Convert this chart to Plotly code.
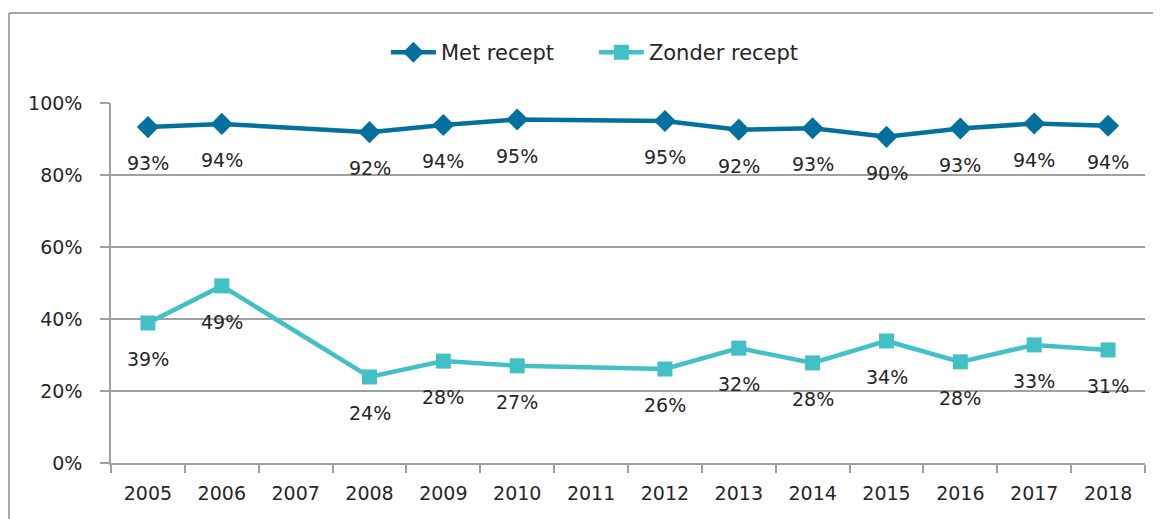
import plotly.graph_objects as go

years = [str(y) for y in range(2005, 2019)]
met_recept = [93.3, 94.2, None, 91.9, 93.9, 95.4, None, 95.0, 92.6, 93.0, 90.6, 92.9, 94.3, 93.7]
met_labels = ["93%", "94%", None, "92%", "94%", "95%", None, "95%", "92%", "93%", "90%", "93%", "94%", "94%"]
zonder_recept = [38.9, 49.2, None, 23.9, 28.3, 27.0, None, 26.1, 31.9, 27.8, 33.9, 28.1, 32.8, 31.4]
zonder_labels = ["39%", "49%", None, "24%", "28%", "27%", None, "26%", "32%", "28%", "34%", "28%", "33%", "31%"]
y_ticks = [0, 20, 40, 60, 80, 100]
y_ticktext = ["0%", "20%", "40%", "60%", "80%", "100%"]

C_MET = "#03709D"
C_ZON = "#43C0C6"
FONT = "DejaVu Sans"
TXT = "#262626"

fig = go.Figure()
fig.add_trace(go.Scatter(x=years, y=met_recept, name="Met recept", mode="lines+markers",
                         connectgaps=True, line=dict(color=C_MET, width=4.5),
                         marker=dict(symbol="diamond", size=17, color=C_MET)))
fig.add_trace(go.Scatter(x=years, y=zonder_recept, name="Zonder recept", mode="lines+markers",
                         connectgaps=True, line=dict(color=C_ZON, width=4.5),
                         marker=dict(symbol="square", size=15, color=C_ZON)))

for vals, labs in ((met_recept, met_labels), (zonder_recept, zonder_labels)):
    for i, (v, t) in enumerate(zip(vals, labs)):
        if v is None:
            continue
        fig.add_annotation(x=i, y=v, xref="x", yref="y", text=t, showarrow=False,
                           yshift=-36, font=dict(family=FONT, size=19, color=TXT))

# outer frame (left and top edges)
fig.add_shape(type="line", xref="paper", yref="paper", x0=-0.0986, x1=1.05, y0=1.25, y1=1.25,
              line=dict(color="#A6A6A6", width=2))
fig.add_shape(type="line", xref="paper", yref="paper", x0=-0.0986, x1=-0.0986, y0=1.25, y1=-0.3,
              line=dict(color="#A6A6A6", width=2))

fig.update_layout(
    width=1153, height=511,
    margin=dict(l=103, r=16, t=95, b=56),
    paper_bgcolor="white", plot_bgcolor="white",
    font=dict(family=FONT, size=19, color=TXT),
    showlegend=True,
    legend=dict(orientation="h", x=0.467, xanchor="center", y=1.14, yanchor="middle",
                font=dict(family=FONT, size=21, color=TXT), itemwidth=45, entrywidth=148,
                bgcolor="rgba(0,0,0,0)"),
    xaxis=dict(type="category", range=[-0.5, 13.5], tickson="boundaries", ticks="outside",
               ticklen=8, tickcolor="#A0A0A0", tickwidth=1.5, showline=True, linecolor="#A0A0A0",
               linewidth=1.5, showgrid=False, ticklabelstandoff=12,
               tickfont=dict(family=FONT, size=19, color=TXT)),
    yaxis=dict(range=[0, 100], tickvals=y_ticks, ticktext=y_ticktext, ticks="outside",
               ticklen=9, tickcolor="#A0A0A0", tickwidth=1.5, showline=True, linecolor="#A0A0A0",
               linewidth=1.5, showgrid=True, gridcolor="#A0A0A0", gridwidth=1.5,
               zeroline=False, ticklabelstandoff=14,
               tickfont=dict(family=FONT, size=19, color=TXT)),
)

fig.write_html("out.html")
